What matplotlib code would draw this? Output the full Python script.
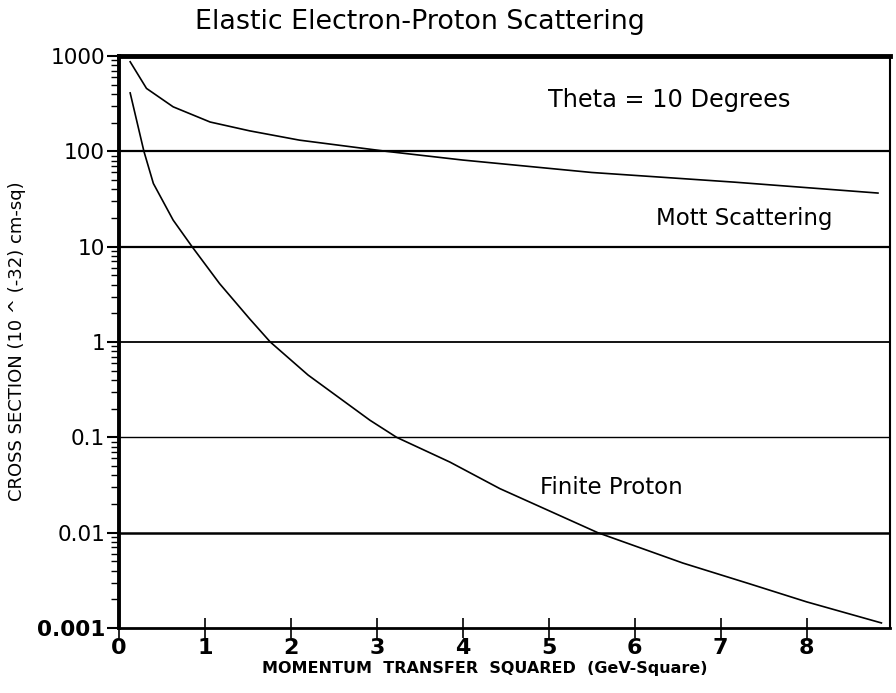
import matplotlib
matplotlib.use("Agg")
import matplotlib.pyplot as plt
from matplotlib.ticker import LogLocator, FixedLocator, NullFormatter

plt.rcParams['font.family'] = ['DejaVu Sans']

# Data
q2_mott = [0.13, 0.32, 0.63, 1.06, 1.52, 2.1, 3.11, 4.0, 5.5, 7.16, 8.83]
mott = [870, 457, 293, 203, 164, 131, 100, 81, 60, 47.5, 36.5]

q2_fp = [0.13, 0.29, 0.40, 0.63, 0.85, 1.17, 1.52, 1.76, 2.2, 2.92, 3.23,
         3.85, 4.43, 5.57, 6.56, 7.34, 8.0, 8.87]
finite = [410, 100, 46, 19, 10, 4.1, 1.75, 1, 0.45, 0.151, 0.1,
          0.055, 0.029, 0.01, 0.0048, 0.0029, 0.00188, 0.00113]

x_ticks = [0, 1, 2, 3, 4, 5, 6, 7, 8]
y_ticks = [0.001, 0.01, 0.1, 1, 10, 100, 1000]
y_ticklabels = ["0.001", "0.01", "0.1", "1", "10", "100", "1000"]
grid_levels = [0.01, 0.1, 1, 10, 100]
grid_widths = [1.8, 1.0, 1.3, 1.6, 1.6]

fig = plt.figure(figsize=(8.96, 6.93), dpi=100)
ax = fig.add_axes([0.1328, 0.0938, 0.8605, 0.8254])

ax.set_yscale('log')
ax.set_xlim(0, 8.97)
ax.set_ylim(0.001, 1000)

for lvl, lw in zip(grid_levels, grid_widths):
    ax.axhline(lvl, color='black', lw=lw, zorder=1)

ax.plot(q2_mott, mott, color='black', lw=1.2, zorder=2)
ax.plot(q2_fp, finite, color='black', lw=1.2, zorder=2)

# spines
ax.spines['top'].set_linewidth(3.5)
ax.spines['left'].set_linewidth(2.8)
ax.spines['bottom'].set_linewidth(2.0)
ax.spines['right'].set_linewidth(1.5)

# ticks
ax.xaxis.set_major_locator(FixedLocator(x_ticks))
ax.set_xticklabels([str(v) for v in x_ticks], fontsize=16, fontweight='bold')
ax.tick_params(axis='x', direction='inout', length=14, width=1.2, pad=0, top=False)

ax.yaxis.set_major_locator(FixedLocator(y_ticks))
ax.set_yticklabels(y_ticklabels, fontsize=15.6)
ax.get_yticklabels()[0].set_fontweight('bold')
ax.yaxis.set_minor_locator(LogLocator(base=10, subs=range(2, 10), numticks=20))
ax.yaxis.set_minor_formatter(NullFormatter())
ax.tick_params(axis='y', which='major', direction='out', length=9, width=1.5, pad=1, right=False)
ax.tick_params(axis='y', which='minor', direction='out', length=6, width=1.0, right=False)

# texts
fig.text(420 / 896, 1 - 22 / 693, "Elastic Electron-Proton Scattering", fontsize=19.4,
         ha='center', va='center')
ax.text(6.40, 345, "Theta = 10 Degrees", fontsize=17.3, ha='center', va='center')
ax.text(7.28, 19.9, "Mott Scattering", fontsize=16.5, ha='center', va='center')
ax.text(5.73, 0.0296, "Finite Proton", fontsize=16.5, ha='center', va='center')

fig.text(485 / 896, 1 - 669 / 693, "MOMENTUM  TRANSFER  SQUARED  (GeV-Square)",
         fontsize=11.5, fontweight='bold', ha='center', va='center')
fig.text(17 / 896, 1 - 341 / 693, "CROSS SECTION (10 ^ (-32) cm-sq)", fontsize=13,
         rotation=90, ha='center', va='center')

fig.savefig("out.png", dpi=100)
